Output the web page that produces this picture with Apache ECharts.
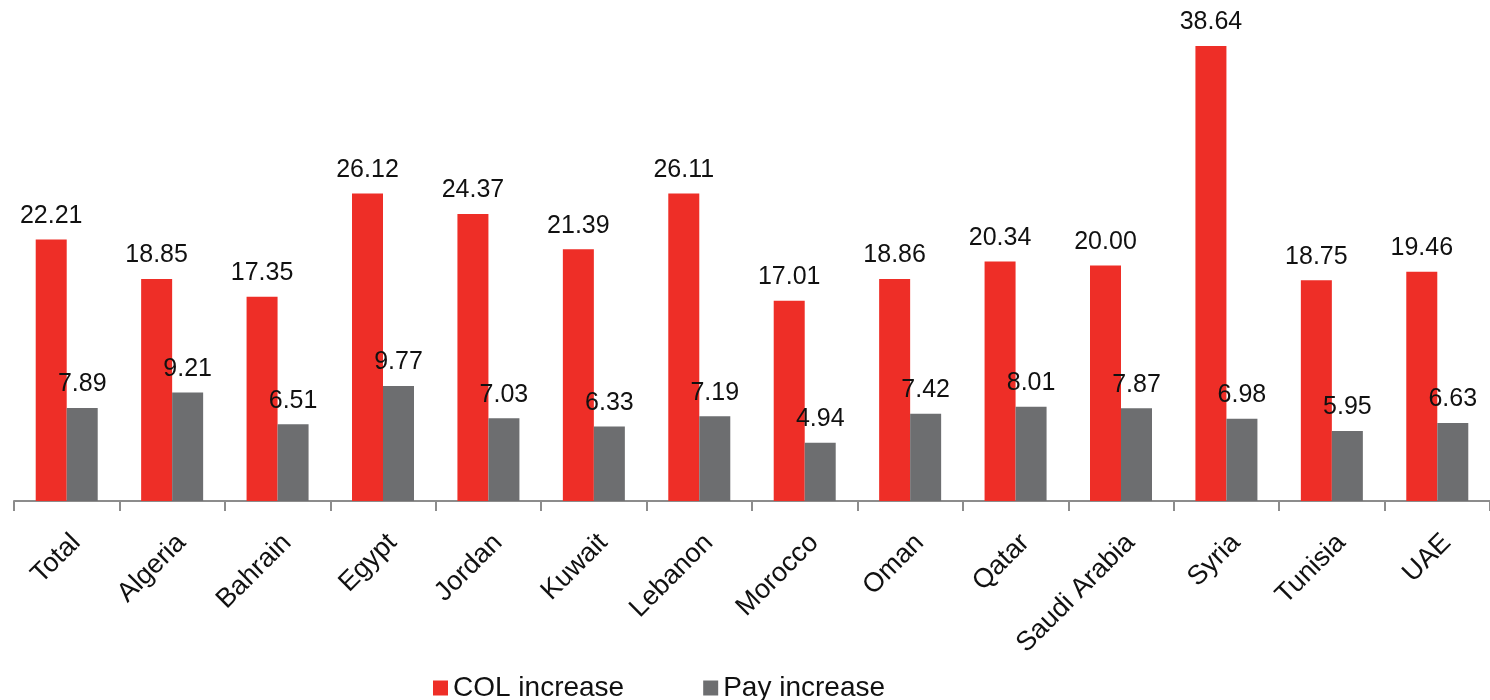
<!DOCTYPE html>
<html>
<head>
<meta charset="utf-8">
<title>COL increase vs Pay increase</title>
<script src="https://cdn.jsdelivr.net/npm/echarts@6/dist/echarts.min.js"></script>
<style>
  html, body { margin: 0; padding: 0; background: #ffffff; }
  #chart { width: 1490px; height: 700px; }
</style>
</head>
<body>
<div id="chart"></div>
<script>
// Countries along the x axis
const countries = ['Total', 'Algeria', 'Bahrain', 'Egypt', 'Jordan', 'Kuwait', 'Lebanon',
  'Morocco', 'Oman', 'Qatar', 'Saudi Arabia', 'Syria', 'Tunisia', 'UAE'];

// Cost-of-living increase (%)
const colIncrease = [22.21, 18.85, 17.35, 26.12, 24.37, 21.39, 26.11,
  17.01, 18.86, 20.34, 20.00, 38.64, 18.75, 19.46];

// Pay increase (%)
const payIncrease = [7.89, 9.21, 6.51, 9.77, 7.03, 6.33, 7.19,
  4.94, 7.42, 8.01, 7.87, 6.98, 5.95, 6.63];

const FONT = '"Liberation Sans", Arial, sans-serif';

const valueLabel = {
  show: true,
  position: 'top',
  distance: 11,
  color: '#111111',
  fontFamily: FONT,
  fontSize: 25,
  formatter: p => p.value.toFixed(2)
};

const chart = echarts.init(document.getElementById('chart'), null, { renderer: 'canvas' });

chart.setOption({
  animation: false,
  backgroundColor: '#ffffff',
  grid: { left: 14, top: 30, width: 1487, bottom: 199, containLabel: false },
  legend: {
    left: 428,
    top: 669,
    icon: 'rect',
    itemWidth: 15,
    itemHeight: 15,
    itemGap: 79,
    textStyle: { fontFamily: FONT, fontSize: 28, color: '#111111' },
    data: ['COL increase', 'Pay increase']
  },
  xAxis: {
    type: 'category',
    data: countries,
    boundaryGap: true,
    axisLine: { show: true, lineStyle: { color: '#8c8c8c', width: 2 } },
    axisTick: { show: true, length: 10, lineStyle: { color: '#8c8c8c', width: 2 } },
    axisLabel: {
      interval: 0,
      rotate: 45,
      margin: 28,
      verticalAlign: 'top',
      color: '#111111',
      fontFamily: FONT,
      fontSize: 27
    }
  },
  yAxis: {
    type: 'value',
    min: 0,
    max: 40,
    show: false,
    splitLine: { show: false }
  },
  series: [
    {
      name: 'COL increase',
      type: 'bar',
      data: colIncrease,
      barWidth: 31,
      barGap: '0%',
      itemStyle: { color: '#ee2e27' },
      label: valueLabel
    },
    {
      name: 'Pay increase',
      type: 'bar',
      data: payIncrease,
      barWidth: 31,
      barGap: '0%',
      itemStyle: { color: '#6d6e70' },
      label: valueLabel
    }
  ]
});
</script>
</body>
</html>
